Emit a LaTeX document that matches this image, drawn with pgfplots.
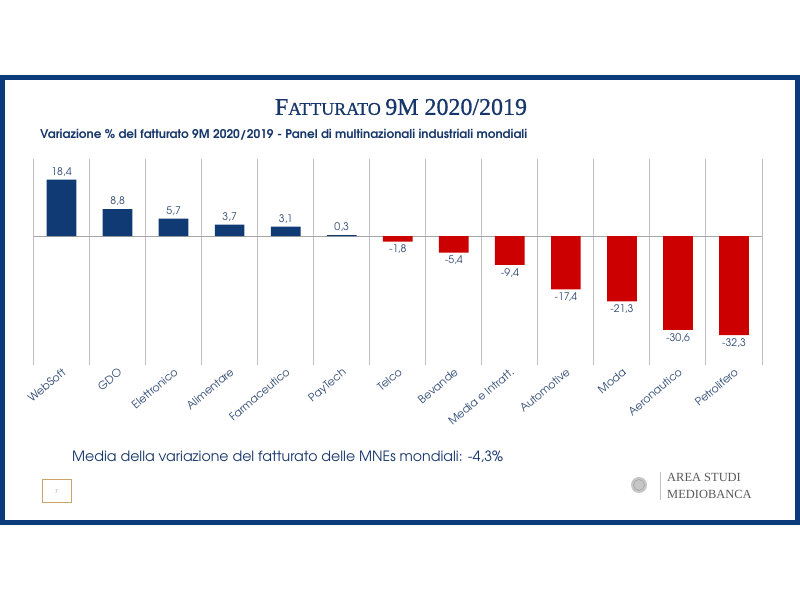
\documentclass[border=0pt]{standalone}
\usepackage{pgfplots}
\pgfplotsset{compat=1.18}
\usepackage{fontspec}
\setmainfont{Liberation Serif}
\setsansfont{TeX Gyre Adventor}
\newfontfamily\titlefont[FakeBold=0.8]{Liberation Serif}
\newfontfamily\logofont{Liberation Serif}
\definecolor{frameblue}{HTML}{0C3B7C}
\definecolor{barblue}{HTML}{103A74}
\definecolor{barred}{HTML}{CC0000}
\definecolor{labelcol}{HTML}{2E4872}
\definecolor{titlecol}{HTML}{17366A}
\definecolor{tan}{HTML}{C9A36A}
\begin{document}
\begin{tikzpicture}[x=1bp,y=1bp]
\path (0,0) rectangle (800,600);
% slide frame
\fill[frameblue] (0,75) rectangle (800,525);
\fill[white] (5,80) rectangle (795,520);
% title
\node[inner sep=0pt, text=titlecol] at (401,493) {\resizebox{252bp}{!}{\titlefont\fontsize{18}{18}\selectfont F\fontsize{13.5}{13.5}\selectfont ATTURATO \fontsize{18}{18}\selectfont 9M 2020/2019}};
% subtitle
\node[inner sep=0pt, anchor=west, text=titlecol] at (40,465) {\resizebox{487bp}{!}{\sffamily\bfseries\fontsize{10.5}{10.5}\selectfont Variazione \% del fatturato 9M 2020/2019 - Panel di multinazionali industriali mondiali}};
% footer
\node[inner sep=0pt, anchor=west, text=titlecol] at (72,143) {\resizebox{431bp}{!}{\sffamily\fontsize{13.5}{13.5}\selectfont Media della variazione del fatturato delle MNEs mondiali: -4,3\%}};
% page box
\draw[tan, line width=1bp] (42,97) rectangle (71,120);
\node[text=gray, font=\sffamily\fontsize{5}{5}\selectfont] at (56.5,108.5) {7};
% logo
\fill[gray!45] (639,115) circle (8);
\draw[gray!70, line width=0.6bp] (639,115) circle (5.5);
\draw[gray!50, line width=0.6bp] (660,100) -- (660,128);
\node[anchor=west, inner sep=0pt, text=gray!70!black, font=\logofont\fontsize{12.5}{12.5}\selectfont] at (667,123) {AREA STUDI};
\node[anchor=west, inner sep=0pt, text=gray!70!black, font=\logofont\fontsize{12.5}{12.5}\selectfont] at (667,106) {MEDIOBANCA};
\begin{axis}[
  at={(33.5bp,235bp)}, anchor=south west,
  scale only axis, width=728.5bp, height=205.7bp,
  xmin=-0.5, xmax=12.5, ymin=-42, ymax=25,
  axis line style={draw=none},
  ytick=\empty,
  xtick={0,...,12},
  xticklabels={WebSoft,GDO,Elettronico,Alimentare,Farmaceutico,PayTech,Telco,Bevande,Media e Intratt.,Automotive,Moda,Aeronautico,Petrolifero},
  minor xtick={-0.5,0.5,...,12.5},
  xminorgrids=true,
  minor grid style={color=black!25, line width=1bp},
  major tick length=0pt, minor tick length=0pt,
  xticklabel style={rotate=40, anchor=north east, font=\sffamily\fontsize{11}{11}\selectfont, text=labelcol, inner sep=1.5bp},
  ybar, bar width=29.7bp, bar shift=0pt,
  nodes near coords, nodes near coords align=vertical,
  every node near coord/.append style={font=\sffamily\fontsize{10.5}{10.5}\selectfont, text=labelcol},
  /pgf/number format/.cd, use comma, fixed, fixed zerofill, precision=1, assume math mode=true,
]
\draw[color=black!35, line width=1bp] (axis cs:-0.5,0) -- (axis cs:12.5,0);
\addplot[fill=barblue, draw=none] coordinates {(0,18.4) (1,8.8) (2,5.7) (3,3.7) (4,3.1) (5,0.3)};
\addplot[fill=barred, draw=none] coordinates {(6,-1.8) (7,-5.4) (8,-9.4) (9,-17.4) (10,-21.3) (11,-30.6) (12,-32.3)};
\end{axis}
\end{tikzpicture}
\end{document}
